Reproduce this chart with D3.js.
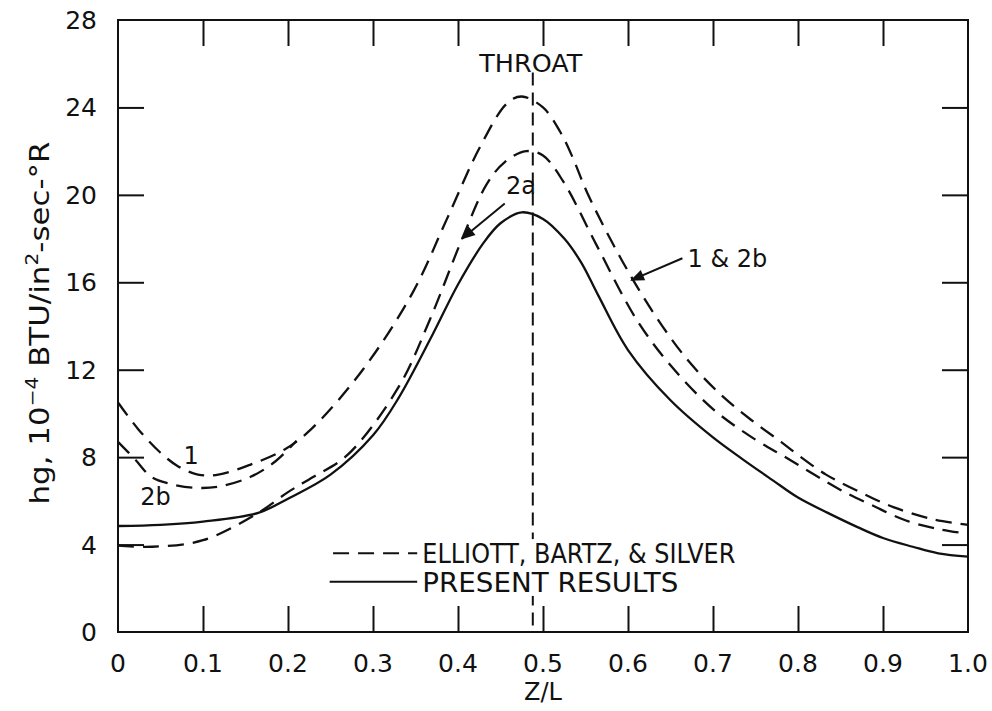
<!DOCTYPE html>
<html>
<head>
<meta charset="utf-8">
<script src="https://cdn.jsdelivr.net/npm/d3@7"></script>
<style>
  body { margin: 0; background: #fff; }
  text { font-family: "DejaVu Sans", "Liberation Sans", sans-serif; fill: #111; }
</style>
</head>
<body>
<div class="chart"></div>
<script>
var width = 992
var height = 711

// Z/L positions and hg values
var presentZ = [0, 0.05, 0.1, 0.165, 0.2, 0.25, 0.3, 0.33, 0.37, 0.4, 0.43, 0.45, 0.475, 0.5, 0.525, 0.545, 0.565, 0.6, 0.65, 0.7, 0.735, 0.77, 0.8, 0.835, 0.87, 0.9, 0.935, 0.965, 1.0]
var presentHg = [4.85, 4.9, 5.05, 5.45, 6.1, 7.2, 9.0, 10.7, 13.6, 15.9, 17.8, 18.7, 19.2, 18.9, 18.0, 16.9, 15.4, 12.9, 10.6, 8.9, 7.9, 6.95, 6.15, 5.45, 4.8, 4.3, 3.9, 3.6, 3.45]

var curve1Z = [0, 0.024, 0.05, 0.07, 0.094, 0.118, 0.156, 0.196, 0.227, 0.288, 0.347, 0.387, 0.426, 0.458, 0.475, 0.5, 0.52, 0.535, 0.552, 0.59, 0.63, 0.669, 0.708, 0.745, 0.78, 0.8, 0.833, 0.873, 0.913, 0.96, 1.0]
var curve1Hg = [10.5, 9.27, 8.2, 7.6, 7.2, 7.2, 7.66, 8.35, 9.27, 12.0, 15.55, 18.9, 22.2, 24.2, 24.5, 24.0, 22.9, 21.7, 20.1, 17.2, 14.6, 12.5, 10.9, 9.7, 8.7, 8.1, 7.2, 6.4, 5.7, 5.15, 4.9]

var curve2bZ = [0, 0.02, 0.039, 0.059, 0.09, 0.118, 0.156, 0.185, 0.21]
var curve2bHg = [8.7, 7.9, 7.1, 6.8, 6.6, 6.65, 7.1, 7.8, 8.75]

var curve2aZ = [0, 0.04, 0.1, 0.165, 0.2, 0.23, 0.27, 0.33, 0.367, 0.406, 0.434, 0.455, 0.48, 0.5, 0.524, 0.563, 0.61, 0.65, 0.7, 0.75, 0.783, 0.817, 0.85, 0.887, 0.927, 0.967, 1.0]
var curve2aHg = [3.95, 3.9, 4.2, 5.45, 6.4, 7.1, 8.1, 11.2, 14.3, 18.1, 20.5, 21.5, 22.0, 21.8, 20.6, 17.7, 14.3, 12.2, 10.2, 8.8, 8.05, 7.25, 6.5, 5.8, 5.1, 4.7, 4.5]

var throatZ = 0.488

var xTicks = [0, 0.1, 0.2, 0.3, 0.4, 0.5, 0.6, 0.7, 0.8, 0.9, 1.0]
var xTickLabels = ['0', '0.1', '0.2', '0.3', '0.4', '0.5', '0.6', '0.7', '0.8', '0.9', '1.0']
var yTicks = [0, 4, 8, 12, 16, 20, 24, 28]

var legendLabels = ['ELLIOTT, BARTZ, & SILVER', 'PRESENT RESULTS']

function zip(zs, hs) {
    return zs.map(function (z, i) { return [z, hs[i]] })
}

var margin = { left: 118, right: 24, top: 20, bottom: 79 }

var svg = d3.select('.chart').append('svg')
    .attr('width', width)
    .attr('height', height)

var x = d3.scaleLinear().domain([0, 1]).range([margin.left, width - margin.right])
var y = d3.scaleLinear().domain([0, 28]).range([height - margin.bottom, margin.top])

var line = d3.line()
    .x(function (d) { return x(d[0]) })
    .y(function (d) { return y(d[1]) })
    .curve(d3.curveCatmullRom.alpha(0.5))

// frame
svg.append('rect')
    .attr('x', x(0)).attr('y', y(28))
    .attr('width', x(1) - x(0)).attr('height', y(0) - y(28))
    .attr('fill', 'none').attr('stroke', '#111').attr('stroke-width', 2)

var tickLen = 26
// inward ticks on all four sides
svg.append('g').attr('transform', 'translate(0,' + y(0) + ')')
    .call(d3.axisTop(x).tickValues(xTicks.slice(1, -1)).tickSize(tickLen).tickFormat(''))
svg.append('g').attr('transform', 'translate(0,' + y(28) + ')')
    .call(d3.axisBottom(x).tickValues(xTicks.slice(1, -1)).tickSize(tickLen).tickFormat(''))
svg.append('g').attr('transform', 'translate(' + x(0) + ',0)')
    .call(d3.axisRight(y).tickValues(yTicks.slice(1, -1)).tickSize(tickLen).tickFormat(''))
svg.append('g').attr('transform', 'translate(' + x(1) + ',0)')
    .call(d3.axisLeft(y).tickValues(yTicks.slice(1, -1)).tickSize(tickLen).tickFormat(''))
svg.selectAll('.domain').remove()
svg.selectAll('.tick line').attr('stroke', '#111').attr('stroke-width', 2)

// tick labels
svg.append('g').selectAll('text')
    .data(xTicks)
    .enter().append('text')
    .attr('x', function (d) { return x(d) })
    .attr('y', y(0) + 40)
    .attr('text-anchor', 'middle')
    .attr('font-size', 25)
    .text(function (d, i) { return xTickLabels[i] })

svg.append('g').selectAll('text')
    .data(yTicks)
    .enter().append('text')
    .attr('x', 97)
    .attr('y', function (d) { return y(d) + 9 })
    .attr('text-anchor', 'end')
    .attr('font-size', 25)
    .text(function (d) { return d })

// axis titles
svg.append('text')
    .attr('x', x(0.5)).attr('y', y(0) + 68)
    .attr('text-anchor', 'middle').attr('font-size', 24)
    .text('Z/L')

var yTitle = svg.append('text')
    .attr('transform', 'translate(49,' + 323 + ') rotate(-90)')
    .attr('text-anchor', 'middle').attr('font-size', 26)
    .attr('textLength', 363).attr('lengthAdjust', 'spacingAndGlyphs')
yTitle.append('tspan').text('hg, 10')
yTitle.append('tspan').attr('dy', -11).attr('font-size', 17).text('−4')
yTitle.append('tspan').attr('dy', 11).text(' BTU/in')
yTitle.append('tspan').attr('dy', -11).attr('font-size', 17).text('2')
yTitle.append('tspan').attr('dy', 11).text('-sec-°R')

// throat line
svg.append('line')
    .attr('x1', x(throatZ)).attr('x2', x(throatZ))
    .attr('y1', y(25.6)).attr('y2', y(0))
    .attr('stroke', '#111').attr('stroke-width', 2)
    .attr('stroke-dasharray', '13,7')
svg.append('text')
    .attr('x', x(throatZ) - 2).attr('y', y(25.5) - 3)
    .attr('text-anchor', 'middle').attr('font-size', 25)
    .attr('textLength', 103).attr('lengthAdjust', 'spacingAndGlyphs')
    .text('THROAT')

// curves
var dashed = [zip(curve1Z, curve1Hg), zip(curve2bZ, curve2bHg), zip(curve2aZ, curve2aHg)]
svg.append('g').selectAll('path')
    .data(dashed)
    .enter().append('path')
    .attr('d', line)
    .attr('fill', 'none').attr('stroke', '#111').attr('stroke-width', 2.3)
    .attr('stroke-dasharray', '16,9')

svg.append('path')
    .datum(zip(presentZ, presentHg))
    .attr('d', line)
    .attr('fill', 'none').attr('stroke', '#111').attr('stroke-width', 2.3)

// curve labels and arrows
svg.append('defs').append('marker')
    .attr('id', 'head')
    .attr('viewBox', '0 0 10 10').attr('refX', 9).attr('refY', 5)
    .attr('markerWidth', 18).attr('markerHeight', 14).attr('orient', 'auto')
    .attr('markerUnits', 'userSpaceOnUse')
    .append('path').attr('d', 'M0,1 L10,5 L0,9 z').attr('fill', '#111')

var arrows = [
    [[0.455, 19.6], [0.405, 18.0]],
    [[0.664, 17.1], [0.604, 16.1]]
]
svg.append('g').selectAll('path')
    .data(arrows)
    .enter().append('path')
    .attr('d', function (d) {
        return 'M' + x(d[0][0]) + ',' + y(d[0][1]) + ' L' + x(d[1][0]) + ',' + y(d[1][1])
    })
    .attr('stroke', '#111').attr('stroke-width', 2).attr('fill', 'none')
    .attr('marker-end', 'url(#head)')

var curveLabels = [
    { z: 0.474, hg: 20.45, t: '2a' },
    { z: 0.67, hg: 17.1, t: '1 & 2b', anchor: 'start' },
    { z: 0.086, hg: 8.1, t: '1' },
    { z: 0.044, hg: 6.2, t: '2b' }
]
svg.append('g').selectAll('text')
    .data(curveLabels)
    .enter().append('text')
    .attr('x', function (d) { return x(d.z) })
    .attr('y', function (d) { return y(d.hg) + 9 })
    .attr('text-anchor', function (d) { return d.anchor || 'middle' })
    .attr('font-size', 24)
    .text(function (d) { return d.t })

// legend, with a white patch so the throat line breaks behind it
var legend = svg.append('g')
legend.append('rect')
    .attr('x', x(0.358)).attr('y', y(4.25))
    .attr('width', 316).attr('height', y(1.65) - y(4.25))
    .attr('fill', '#fff')
legend.append('line')
    .attr('x1', x(0.253)).attr('x2', x(0.352))
    .attr('y1', y(3.6)).attr('y2', y(3.6))
    .attr('stroke', '#111').attr('stroke-width', 2).attr('stroke-dasharray', '16,9')
legend.append('line')
    .attr('x1', x(0.249)).attr('x2', x(0.352))
    .attr('y1', y(2.3)).attr('y2', y(2.3))
    .attr('stroke', '#111').attr('stroke-width', 2)
legend.append('text')
    .attr('x', x(0.358)).attr('y', y(3.6) + 10)
    .attr('font-size', 27)
    .attr('textLength', 313).attr('lengthAdjust', 'spacingAndGlyphs')
    .text(legendLabels[0])
legend.append('text')
    .attr('x', x(0.358)).attr('y', y(2.3) + 10)
    .attr('font-size', 26)
    .attr('textLength', 256).attr('lengthAdjust', 'spacingAndGlyphs')
    .text(legendLabels[1])
</script>
</body>
</html>
